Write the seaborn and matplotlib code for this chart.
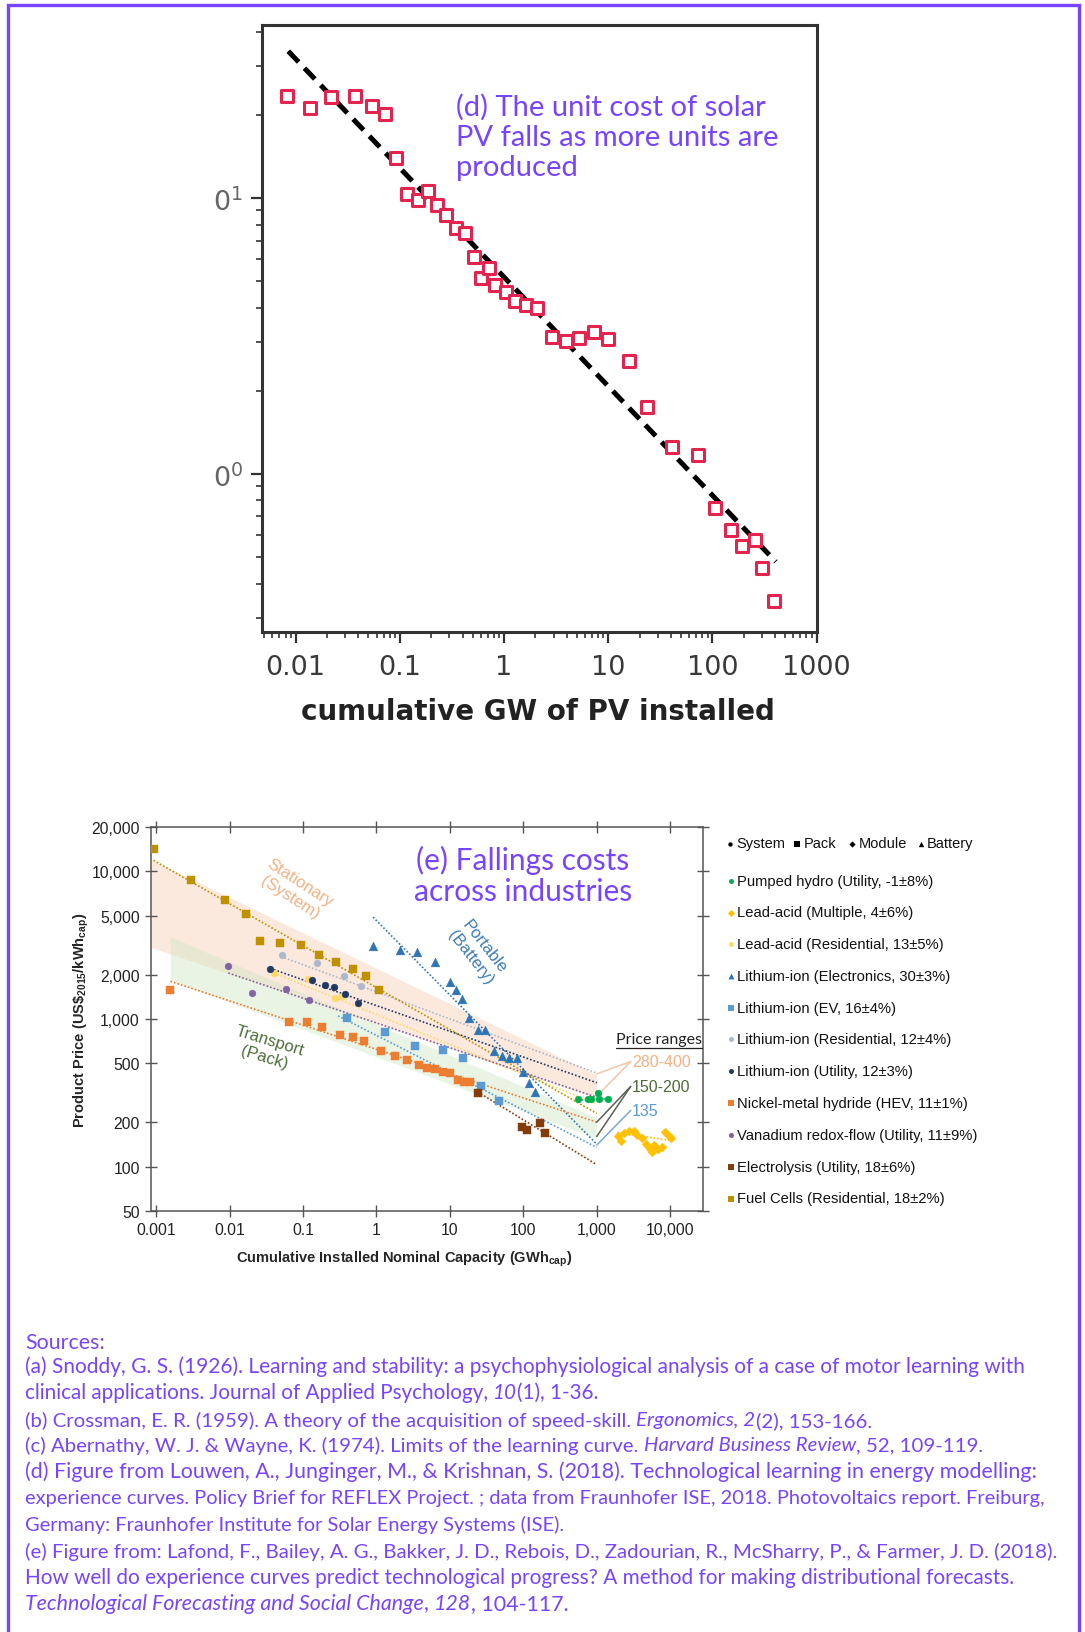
import numpy as np
import pandas as pd
import matplotlib
matplotlib.use("Agg")
import matplotlib.pyplot as plt
import seaborn as sns
from matplotlib.ticker import FixedLocator, FixedFormatter, LogLocator, NullLocator, NullFormatter

W, H = 1085, 1633
PURPLE = '#7744ff'

# ---------------- (d) solar PV experience curve ----------------
pv_gw = [0.0083, 0.0138, 0.0219, 0.0372, 0.0537, 0.0724, 0.0912, 0.1175, 0.151, 0.186,
         0.229, 0.275, 0.347, 0.427, 0.513, 0.603, 0.724, 0.813, 1.05, 1.29,
         1.62, 2.09, 2.88, 3.98, 5.25, 7.24, 10.0, 15.8, 23.4, 40.7,
         72.4, 105, 151, 191, 257, 302, 389]
pv_cost = [23.4, 21.1, 23.2, 23.4, 21.5, 20.2, 14.0, 10.3, 9.83, 10.6,
           9.41, 8.7, 7.78, 7.44, 6.1, 5.12, 5.58, 4.82, 4.54, 4.23,
           4.09, 3.98, 3.12, 3.04, 3.1, 3.26, 3.07, 2.56, 1.74, 1.25,
           1.17, 0.75, 0.625, 0.549, 0.573, 0.457, 0.347]
pv_fit_gw = [0.0085, 407]
pv_fit_cost = [34, 0.48]
pv_xticks = [0.01, 0.1, 1, 10, 100, 1000]
pv_xticklabels = ['0.01', '0.1', '1', '10', '100', '1000']
pv_yticks = [1, 10]
pv_yticklabels = ['$0^0$', '$0^1$']

# ---------------- (e) storage technologies ----------------
hydro_x = [553, 755, 837, 1055, 1087, 1410]
hydro_y = [285, 285, 285, 313, 285, 287]
hydro_fit = ([550, 1420], [283, 288])

lead_multi_x = [1920, 2150, 2370, 2770, 3230, 3580, 4190, 4640, 5320, 5700, 6030, 6820, 7800, 8380, 9600, 10300]
lead_multi_y = [160, 150, 168, 174, 174, 164, 157, 142, 132, 125, 140, 132, 136, 172, 160, 155]
lead_multi_fit = ([1900, 10500], [170, 150])

lead_res_x = [0.0397, 0.118, 0.27, 0.344]
lead_res_y = [2060, 1877, 1390, 1435]
lead_res_fit = ([0.04, 1000], [2050, 265])

li_elec_x = [0.9, 2.1, 3.55, 6.2, 10, 12.1, 14.4, 18, 23.9, 30.3, 40, 51, 64.7, 81, 100, 119, 144]
li_elec_y = [3110, 2920, 2850, 2440, 1770, 1570, 1370, 1020, 840, 840, 607, 561, 544, 544, 438, 371, 321]
li_elec_fit = ([0.9, 1000], [4900, 142])

li_ev_x = [0.397, 1.31, 3.3, 8.1, 15, 26.8, 47]
li_ev_y = [1023, 819, 658, 612, 548, 352, 277]
li_ev_fit = ([0.3, 1000], [1050, 135])

li_res_x = [0.0515, 0.153, 0.358, 0.62]
li_res_y = [2700, 2405, 1955, 1663]
li_res_fit = ([0.05, 1000], [2650, 430])

li_util_x = [0.0358, 0.131, 0.2, 0.262, 0.378, 0.553]
li_util_y = [2170, 1848, 1711, 1640, 1487, 1285]
li_util_fit = ([0.036, 1000], [2200, 370])

nimh_x = [0.00156, 0.0637, 0.115, 0.184, 0.318, 0.473, 0.673, 1.16, 1.79, 2.62,
          3.78, 4.95, 6.3, 8.0, 9.9, 12.8, 15.8, 19]
nimh_y = [1570, 951, 951, 885, 785, 753, 715, 605, 563, 528,
          486, 467, 457, 440, 430, 387, 377, 375]
nimh_fit = ([0.00156, 1000], [1800, 200])

vrf_x = [0.0096, 0.0203, 0.0583, 0.1216]
vrf_y = [2275, 1510, 1590, 1340]
vrf_fit = ([0.0096, 1000], [2050, 295])

elec_x = [24, 97, 111, 168, 197]
elec_y = [313, 184, 177, 196, 168]
elec_fit = ([24, 1000], [320, 103])

fc_x = [0.00092, 0.0030, 0.0086, 0.0167, 0.0258, 0.048, 0.093, 0.166, 0.284, 0.473, 0.73, 1.07]
fc_y = [14300, 8700, 6400, 5150, 3370, 3280, 3190, 2700, 2450, 2170, 1960, 1570]
fc_fit = ([0.00092, 1000], [11900, 229])

tech_names = ['Pumped hydro (Utility, -1±8%)', 'Lead-acid (Multiple, 4±6%)',
              'Lead-acid (Residential, 13±5%)', 'Lithium-ion (Electronics, 30±3%)',
              'Lithium-ion (EV, 16±4%)', 'Lithium-ion (Residential, 12±4%)',
              'Lithium-ion (Utility, 12±3%)', 'Nickel-metal hydride (HEV, 11±1%)',
              'Vanadium redox-flow (Utility, 11±9%)', 'Electrolysis (Utility, 18±6%)',
              'Fuel Cells (Residential, 18±2%)']
tech_x = [hydro_x, lead_multi_x, lead_res_x, li_elec_x, li_ev_x, li_res_x,
          li_util_x, nimh_x, vrf_x, elec_x, fc_x]
tech_y = [hydro_y, lead_multi_y, lead_res_y, li_elec_y, li_ev_y, li_res_y,
          li_util_y, nimh_y, vrf_y, elec_y, fc_y]
tech_fit = [hydro_fit, lead_multi_fit, lead_res_fit, li_elec_fit, li_ev_fit, li_res_fit,
            li_util_fit, nimh_fit, vrf_fit, elec_fit, fc_fit]
tech_colors = ['#00b050', '#ffc000', '#ffd966', '#2e75b6', '#5b9bd5', '#adb9ca',
               '#203864', '#ed7d31', '#8064a2', '#843c0c', '#bf9000']
tech_markers = ['o', 'D', 'o', '^', 's', 'o', 'o', 's', 'o', 's', 's']

e_xticks = [0.001, 0.01, 0.1, 1, 10, 100, 1000, 10000]
e_xticklabels = ['0.001', '0.01', '0.1', '1', '10', '100', '1,000', '10,000']
e_yticks = [50, 100, 200, 500, 1000, 2000, 5000, 10000, 20000]
e_yticklabels = ['50', '100', '200', '500', '1,000', '2,000', '5,000', '10,000', '20,000']

# shaded bands (x ends, upper, lower)
stat_band = ([0.00086, 1000], [12000, 420], [3050, 290])
trans_band = ([0.00156, 1000], [3600, 215], [1830, 155])

# price range call-outs: label, y of label, target y at 1000 GWh, colours
range_labels = ['280-400', '150-200', '135']
range_label_y = [515, 349, 240]
range_targets = [[425, 300], [200, 160], [140]]
range_text_colors = ['#f4b183', '#4e6b3a', '#5b9bd5']
range_line_colors = ['#f4c7a8', '#5a6350', '#7aa7d8']

sources = [
    [("Sources:", False)],
    [("(a) Snoddy, G. S. (1926). Learning and stability: a psychophysiological analysis of a case of motor learning with", False)],
    [("clinical applications. Journal of Applied Psychology, ", False), ("10", True), ("(1), 1-36.", False)],
    [("(b) Crossman, E. R. (1959). A theory of the acquisition of speed-skill. ", False), ("Ergonomics, 2", True), ("(2), 153-166.", False)],
    [("(c) Abernathy, W. J. & Wayne, K. (1974). Limits of the learning curve. ", False), ("Harvard Business Review", True), (", 52, 109-119.", False)],
    [("(d) Figure from Louwen, A., Junginger, M., & Krishnan, S. (2018). Technological learning in energy modelling:", False)],
    [("experience curves. Policy Brief for REFLEX Project. ; data from Fraunhofer ISE, 2018. Photovoltaics report. Freiburg,", False)],
    [("Germany: Fraunhofer Institute for Solar Energy Systems (ISE).", False)],
    [("(e) Figure from: Lafond, F., Bailey, A. G., Bakker, J. D., Rebois, D., Zadourian, R., McSharry, P., & Farmer, J. D. (2018).", False)],
    [("How well do experience curves predict technological progress? A method for making distributional forecasts.", False)],
    [("Technological Forecasting and Social Change", True), (", ", False), ("128", True), (", 104-117.", False)],
]
source_y = [1343, 1367, 1393, 1421, 1446, 1472, 1499, 1525, 1551.5, 1578.5, 1604.5]
source_width = [83, 1000, 571, 843, 957, 1003, 1016, 538, 1025, 990, 552]

# ----------------------------------------------------------------
sns.set_style("white")
plt.rcParams['font.family'] = ['Lato', 'DejaVu Sans']

fig = plt.figure(figsize=(W / 100, H / 100), dpi=100)

# ---------- top panel ----------
ax1 = fig.add_axes([262.4 / W, 1 - 633 / H, 555 / W, 607 / H])
pv = pd.DataFrame({'gw': pv_gw, 'cost': pv_cost})
sns.lineplot(x=pv_fit_gw, y=pv_fit_cost, ax=ax1, color='black', lw=3.6,
             linestyle=(0, (3.0, 1.7)), zorder=2)
sns.scatterplot(data=pv, x='gw', y='cost', ax=ax1, marker='s', s=64,
                facecolor='white', edgecolor='#e3244f', linewidth=2.2, zorder=3)
ax1.set_xscale('log')
ax1.set_yscale('log')
ax1.set_xlim(0.0048, 1020)
ax1.set_ylim(0.267, 42.3)
ax1.xaxis.set_major_locator(FixedLocator(pv_xticks))
ax1.xaxis.set_major_formatter(FixedFormatter(pv_xticklabels))
ax1.yaxis.set_major_locator(FixedLocator(pv_yticks))
ax1.yaxis.set_major_formatter(FixedFormatter(pv_yticklabels))
ax1.xaxis.set_minor_locator(LogLocator(base=10, subs=np.arange(2, 10)))
ax1.yaxis.set_minor_locator(LogLocator(base=10, subs=np.arange(2, 10)))
ax1.xaxis.set_minor_formatter(NullFormatter())
ax1.yaxis.set_minor_formatter(NullFormatter())
for sp in ax1.spines.values():
    sp.set_color('#333333')
    sp.set_linewidth(2.2)
ax1.tick_params(axis='both', which='major', direction='out', length=8, width=1.6,
                color='#333333', bottom=True, left=True, top=False, right=False)
ax1.tick_params(axis='both', which='minor', direction='out', length=4, width=1.2,
                color='#333333', bottom=True, left=True, top=False, right=False)
ax1.tick_params(axis='x', labelsize=19.5, labelcolor='#3a3a3a', pad=8)
ax1.tick_params(axis='y', labelsize=19.5, labelcolor='#666666', pad=6)
for lab in ax1.get_xticklabels():
    lab.set_family('DejaVu Sans')
ax1.set_xlabel('cumulative GW of PV installed', fontsize=20, fontweight='bold',
               color='#222222', family='DejaVu Sans')
ax1.xaxis.set_label_coords(0.497, -0.107)
ax1.set_ylabel('')

fig.text(456 / W, 1 - 137.5 / H, '(d) The unit cost of solar\nPV falls as more units are\nproduced',
         color=PURPLE, fontsize=21, ha='left', va='center', linespacing=1.2)

# ---------- bottom panel ----------
ax2 = fig.add_axes([151 / W, 1 - 1212 / H, 552 / W, 384 / H])
ax2.set_xscale('log')
ax2.set_yscale('log')
ax2.fill_between(stat_band[0], stat_band[1], stat_band[2], color='#f7c9ad', alpha=0.4, lw=0, zorder=0)
ax2.fill_between(trans_band[0], trans_band[1], trans_band[2], color='#cfe5bf', alpha=0.42, lw=0, zorder=0)

for name, xs, ys, fit, col, mk in zip(tech_names, tech_x, tech_y, tech_fit,
                                      tech_colors, tech_markers):
    sns.lineplot(x=fit[0], y=fit[1], ax=ax2, color=col, lw=1.2, linestyle=(0, (1, 1.2)),
                 zorder=2, sort=False)
    df = pd.DataFrame({'cap': xs, 'price': ys})
    size = {'o': 24, 's': 28, '^': 40, 'D': 20}[mk]
    sns.scatterplot(data=df, x='cap', y='price', ax=ax2, marker=mk, s=size,
                    color=col, edgecolor=col, linewidth=0.3, zorder=3)

# price range call-outs
for lab, ly, targets, tc, lc in zip(range_labels, range_label_y, range_targets,
                                    range_text_colors, range_line_colors):
    for t in targets:
        sns.lineplot(x=[2900, 1000], y=[ly, t], ax=ax2, color=lc, lw=1.1, sort=False, zorder=2)
    ax2.text(3000, ly, lab, color=tc, fontsize=11.5, ha='left', va='center',
             family=['Liberation Sans', 'DejaVu Sans'])

ax2.set_xlim(0.00085, 28000)
ax2.set_ylim(50, 20000)
ax2.xaxis.set_major_locator(FixedLocator(e_xticks))
ax2.xaxis.set_major_formatter(FixedFormatter(e_xticklabels))
ax2.yaxis.set_major_locator(FixedLocator(e_yticks))
ax2.yaxis.set_major_formatter(FixedFormatter(e_yticklabels))
ax2.xaxis.set_minor_locator(NullLocator())
ax2.yaxis.set_minor_locator(NullLocator())
for sp in ax2.spines.values():
    sp.set_color('#555555')
    sp.set_linewidth(1.1)
ax2.tick_params(axis='both', which='major', direction='inout', length=9, width=1,
                color='#555555', top=True, right=True, bottom=True, left=True,
                labelsize=11.3, labelcolor='#222222')
for lab in ax2.get_xticklabels() + ax2.get_yticklabels():
    lab.set_family(['Liberation Sans', 'DejaVu Sans'])
ax2.set_xlabel('Cumulative Installed Nominal Capacity (GWh$_{\\mathregular{cap}}$)',
               fontsize=10.5, fontweight='bold', family=['Liberation Sans', 'DejaVu Sans'])
ax2.set_ylabel('Product Price (US\\$$_{\\mathregular{2015}}$/kWh$_{\\mathregular{cap}}$)',
               fontsize=10.5, fontweight='bold', family=['Liberation Sans', 'DejaVu Sans'])
ax2.xaxis.set_label_coords(0.458, -0.098)
ax2.yaxis.set_label_coords(-0.108, 0.5)

ax2.text(0.0773, 7590, 'Stationary\n(System)', color='#f4b183', fontsize=12, rotation=-33,
         ha='center', va='center', family=['Liberation Sans', 'DejaVu Sans'])
ax2.text(23.9, 2860, 'Portable\n(Battery)', color='#3e7cb8', fontsize=12, rotation=-52,
         ha='center', va='center', family=['Liberation Sans', 'DejaVu Sans'])
ax2.text(0.0322, 635, 'Transport\n(Pack)', color='#4f6e3a', fontsize=12, rotation=-17,
         ha='center', va='center', family=['Liberation Sans', 'DejaVu Sans'])

fig.text(522.7 / W, 1 - 876 / H, '(e) Fallings costs\nacross industries', color=PURPLE,
         fontsize=21.5, ha='center', va='center', linespacing=1.15)

# ---------- overlay in pixel coordinates ----------
ov = fig.add_axes([0, 0, 1, 1])
ov.set_xlim(0, W)
ov.set_ylim(H, 0)
ov.axis('off')

# frame
ov.plot([8, 8, 1079, 1079], [H + 5, 6, 6, H + 5], color=PURPLE, lw=2.4, solid_joinstyle='miter',
        clip_on=False)

leg_font = ['Liberation Sans', 'DejaVu Sans']
# header row of shape legend
for mx, tx, mk, lab in zip([730, 797, 852, 920.5], [736, 803.5, 859, 927],
                           ['o', 's', 'D', '^'], ['System', 'Pack', 'Module', 'Battery']):
    ov.scatter([mx], [844.5], marker=mk, s={'o': 10, 's': 13, 'D': 10, '^': 15}[mk], color='black', lw=0)
    ov.text(tx, 844.5, lab, fontsize=10.5, va='center', ha='left', family=leg_font, color='#111111')

leg_y = [882, 913.5, 945, 977, 1009, 1040, 1072, 1104, 1136, 1168, 1199.5]
for ly, name, col, mk in zip(leg_y, tech_names, tech_colors, tech_markers):
    ov.scatter([731], [ly], marker=mk, s={'o': 13, 's': 15, 'D': 13, '^': 18}[mk], color=col, lw=0)
    ov.text(737, ly, name, fontsize=10.6, va='center', ha='left', family=leg_font, color='#111111')

# "Price ranges" underlined header
r = fig.canvas.get_renderer()
pr = ov.text(702, 1040, 'Price ranges', fontsize=11.5, ha='right', va='center', color='#222222')
bb = pr.get_window_extent(renderer=r)
ov.plot([702 - bb.width, 702], [1049, 1049], color='#222222', lw=0.9)


# sources, with italic fragments, each line fitted to its width in the original
def line_width(parts, fs):
    w = 0
    for s, it in parts:
        t = ov.text(0, 0, s, fontsize=fs, style='italic' if it else 'normal')
        w += t.get_window_extent(renderer=r).width
        t.remove()
    return w


for y, parts, target in zip(source_y, sources, source_width):
    fs = 13 * target / line_width(parts, 13)
    fs = min(max(fs, 12.8), 15.4)
    x = 25
    for s, it in parts:
        t = ov.text(x, y, s, fontsize=fs, style='italic' if it else 'normal',
                    color=PURPLE, ha='left', va='center')
        x += t.get_window_extent(renderer=r).width

fig.savefig('out.png', dpi=100)
